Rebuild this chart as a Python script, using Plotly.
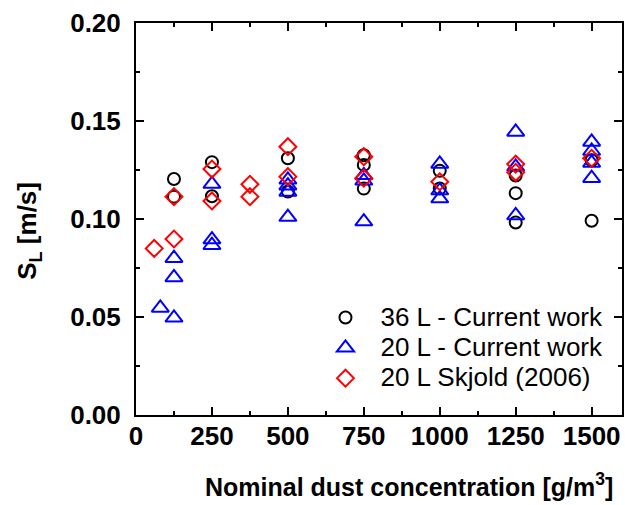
import plotly.graph_objects as go

# 36 L - Current work
x36 = [125, 125, 250, 250, 500, 500, 750, 750, 750, 1000, 1000, 1250, 1250, 1250, 1500, 1500]
y36 = [0.1204, 0.1114, 0.1290, 0.1116, 0.1310, 0.1140, 0.1325, 0.1276, 0.1155,
       0.1246, 0.1156, 0.1222, 0.1132, 0.0982, 0.1300, 0.0991]

# 20 L - Current work
x20 = [80, 125, 125, 125, 250, 250, 250, 500, 500, 500, 500, 750, 750, 750,
       1000, 1000, 1000, 1250, 1250, 1250, 1500, 1500, 1500, 1500]
y20 = [0.0546, 0.0800, 0.0702, 0.0496, 0.1178, 0.0895, 0.0866, 0.1200, 0.1170, 0.1138, 0.1010,
       0.1223, 0.1195, 0.0987, 0.1281, 0.1145, 0.1104, 0.1444, 0.1266, 0.1018,
       0.1393, 0.1347, 0.1286, 0.1208]

# 20 L Skjold (2006)
xsk = [60, 125, 125, 250, 250, 375, 375, 500, 500, 750, 750, 1000, 1250, 1250, 1500]
ysk = [0.0850, 0.1114, 0.0898, 0.1255, 0.1092, 0.1177, 0.1114, 0.1369, 0.1216,
       0.1318, 0.1208, 0.1190, 0.1280, 0.1238, 0.1310]

names = ["36 L - Current work", "20 L - Current work", "20 L Skjold (2006)"]
xticks = [0, 250, 500, 750, 1000, 1250, 1500]
yticks = [0.00, 0.05, 0.10, 0.15, 0.20]

FONT = "Liberation Sans, Arial, sans-serif"

def lname(s):
    return '<span style="font-size:26px">' + s + '</span>'

fig = go.Figure()
fig.add_trace(go.Scatter(x=x36, y=y36, mode="markers", name=lname(names[0]),
                         marker=dict(symbol="circle-open", size=12, color="black",
                                     line=dict(width=2, color="black"))))
fig.add_trace(go.Scatter(x=x20, y=y20, mode="markers", name=lname(names[1]),
                         marker=dict(symbol="triangle-up-open", size=15, color="#0000FF",
                                     line=dict(width=2, color="#0000FF"))))
fig.add_trace(go.Scatter(x=xsk, y=ysk, mode="markers", name=lname(names[2]),
                         marker=dict(symbol="diamond-open", size=13, color="#FF0000",
                                     line=dict(width=2, color="#FF0000"))))

axis_common = dict(showline=True, linewidth=2, linecolor="black", mirror="ticks",
                   ticks="inside", ticklen=8, tickwidth=2, tickcolor="black",
                   showgrid=False, zeroline=False,
                   tickfont=dict(family=FONT, size=26, color="black", weight="bold"))

fig.update_xaxes(range=[0, 1600], tickmode="array", tickvals=xticks,
                 ticktext=[str(v) for v in xticks],
                 minor=dict(dtick=125, tick0=0, ticks="inside", ticklen=4, tickwidth=2,
                            tickcolor="black", showgrid=False),
                 ticklabelstandoff=-3, **axis_common)
fig.update_yaxes(range=[0, 0.2], tickmode="array", tickvals=yticks,
                 ticktext=["%.2f" % v for v in yticks],
                 minor=dict(dtick=0.025, tick0=0, ticks="inside", ticklen=4, tickwidth=2,
                            tickcolor="black", showgrid=False),
                 ticklabelstandoff=8, **axis_common)

fig.add_annotation(text="Nominal dust concentration [g/m<sup>3</sup>]",
                   xref="paper", yref="paper", x=0.5615, y=-0.178,
                   xanchor="center", yanchor="middle", showarrow=False,
                   font=dict(family=FONT, size=25, color="black", weight="bold"))
fig.add_annotation(text="S<sub>L</sub> [m/s]", textangle=-90,
                   xref="paper", yref="paper", x=-0.22, y=0.47,
                   xanchor="center", yanchor="middle", showarrow=False,
                   font=dict(family=FONT, size=26, color="black", weight="bold"))

fig.update_layout(
    width=625, height=505,
    margin=dict(l=136, r=1, t=23, b=90),
    paper_bgcolor="white", plot_bgcolor="white",
    showlegend=True,
    legend=dict(x=0.359, y=0.30, xanchor="left", yanchor="top",
                bgcolor="rgba(0,0,0,0)", borderwidth=0,
                font=dict(family=FONT, size=21, color="black"),
                itemwidth=60),
)

fig.write_html("out.html")
